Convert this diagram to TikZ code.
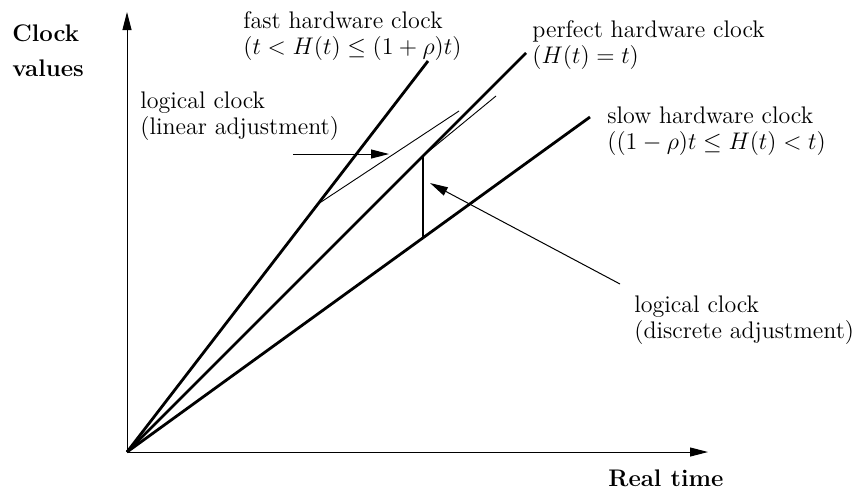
\documentclass[tikz,border=0pt]{standalone}
\usepackage{amsmath, amssymb}
\usepackage{tikz}
\usetikzlibrary{arrows.meta, positioning}

\tikzset{
  axisline/.style={line width=0.5pt, -{Triangle[length=9pt, width=4.5pt]}},
  clockline/.style={line width=1.4pt},
  logicline/.style={line width=0.45pt},
  pointer/.style={line width=0.5pt, -{Triangle[length=9pt, width=4.5pt]}},
  lbl/.style={font=\fontsize{12}{13}\selectfont, align=left, anchor=west, inner sep=0pt},
  axlbl/.style={font=\fontsize{12}{13}\selectfont\bfseries, anchor=west, inner sep=0pt}
}

\begin{document}
\begin{tikzpicture}[x=0.5pt, y=-0.5pt]
  \useasboundingbox (0,0) rectangle (854,489);

  % axes
  \coordinate (O) at (127,452);
  \coordinate (ytop) at (127,12);
  \coordinate (xend) at (708,452);
  \draw[axisline] (O) -- (ytop);
  \draw[axisline] (O) -- (xend);
  \node[axlbl] (clk) at (12,33) {Clock};
  \node[axlbl] (vals) at (12,68) {values};
  \node[axlbl] (rtime) at (608,478) {Real time};

  % hardware clocks
  \coordinate (fastend) at (428,61);
  \coordinate (perfend) at (526,53);
  \coordinate (slowend) at (590,117);
  \draw[clockline] (O) -- (fastend);
  \draw[clockline] (O) -- (perfend);
  \draw[clockline] (O) -- (slowend);

  % logical clocks
  \coordinate (linstart) at (318,204);
  \coordinate (linend) at (459,111);
  \coordinate (jumplow) at (423,238);
  \coordinate (jumphigh) at (423,156);
  \coordinate (discend) at (496,96);
  \draw[logicline] (linstart) -- (linend);
  \draw[line width=0.6pt] (jumplow) -- (jumphigh);
  \draw[logicline] (jumphigh) -- (discend);

  % labels
  \node[lbl] (fastlbl) at (243,36) {fast hardware clock\\$(t < H(t) \le (1+\rho)t)$};
  \node[lbl] (perflbl) at (532,45) {perfect hardware clock\\$(H(t) = t)$};
  \node[lbl] (linlbl) at (140,116) {logical clock\\(linear adjustment)};
  \node[lbl] (slowlbl) at (607,131) {slow hardware clock\\$((1-\rho)t \le H(t) < t)$};
  \node[lbl] (disclbl) at (634,320) {logical clock\\(discrete adjustment)};

  % pointers
  \coordinate (linptr) at (293,154);
  \coordinate (linhead) at (389,154);
  \coordinate (discptr) at (620,284);
  \coordinate (dischead) at (430,183);
  \draw[pointer] (linptr) -- (linhead);
  \draw[pointer] (discptr) -- (dischead);
\end{tikzpicture}
\end{document}
